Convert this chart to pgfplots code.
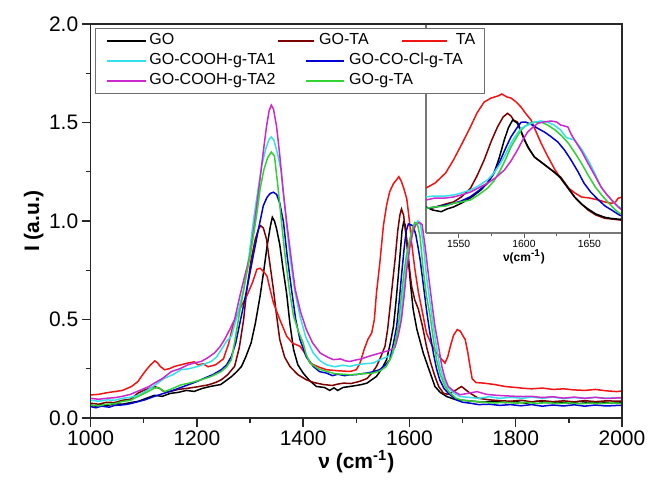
\documentclass[border=0pt]{standalone}
\usepackage{fontspec}
\setmainfont{Liberation Sans}
\usepackage{pgfplots}
\pgfplotsset{compat=1.18}
\definecolor{cGO}{RGB}{0,0,0}
\definecolor{cGOTA}{RGB}{125,0,0}
\definecolor{cTA}{RGB}{240,20,20}
\definecolor{cTAone}{RGB}{50,225,235}
\definecolor{cCl}{RGB}{0,0,215}
\definecolor{cTAtwo}{RGB}{205,40,205}
\definecolor{cgTA}{RGB}{50,210,50}
\definecolor{frame}{RGB}{40,40,40}
\begin{document}
\begin{tikzpicture}
\pgfplotsset{every axis plot/.append style={line width=0.75pt, no markers}}
% ---------- main curves ----------
\begin{axis}[at={(0,0)}, anchor=south west, scale only axis, width=265.7pt, height=197pt,
  xmin=1000, xmax=2000, ymin=0, ymax=2, hide axis]
\addplot[cGO] coordinates {(1000,0.066)(1010,0.06)(1020,0.068)(1030,0.063)(1045,0.072)(1060,0.07)(1075,0.078)(1090,0.085)(1105,0.1)(1120,0.115)(1135,0.11)(1150,0.125)(1165,0.13)(1180,0.14)(1195,0.135)(1210,0.15)(1225,0.16)(1235,0.165)(1245,0.17)(1255,0.19)(1265,0.21)(1275,0.235)(1284,0.262)(1292,0.31)(1302,0.381)(1310,0.48)(1319,0.62)(1326,0.75)(1332,0.87)(1338,0.97)(1342,1.019)(1346,1.0)(1350,0.96)(1356,0.88)(1362,0.76)(1369,0.63)(1375,0.48)(1382,0.347)(1390,0.27)(1400,0.228)(1412,0.19)(1425,0.16)(1440,0.155)(1450,0.14)(1458,0.153)(1465,0.14)(1475,0.155)(1488,0.16)(1500,0.165)(1510,0.17)(1520,0.177)(1529,0.194)(1538,0.211)(1548,0.25)(1557,0.296)(1564,0.38)(1570,0.466)(1575,0.6)(1579,0.721)(1583,0.85)(1586,0.95)(1589,0.993)(1592,0.98)(1595,0.9)(1598,0.806)(1602,0.68)(1607,0.551)(1614,0.45)(1620,0.39)(1626,0.33)(1635,0.26)(1648,0.16)(1658,0.13)(1670,0.109)(1685,0.095)(1700,0.09)(1720,0.085)(1740,0.08)(1760,0.085)(1780,0.078)(1800,0.083)(1820,0.075)(1840,0.085)(1860,0.078)(1880,0.082)(1900,0.076)(1920,0.084)(1940,0.078)(1960,0.082)(1980,0.077)(2000,0.08)};
\addplot[cGOTA] coordinates {(1000,0.075)(1015,0.07)(1030,0.08)(1045,0.078)(1060,0.09)(1075,0.095)(1089,0.126)(1100,0.14)(1110,0.15)(1120,0.16)(1130,0.15)(1140,0.13)(1150,0.135)(1165,0.145)(1183,0.151)(1200,0.158)(1221,0.168)(1235,0.18)(1246,0.194)(1258,0.22)(1271,0.262)(1280,0.36)(1288,0.5)(1294,0.653)(1302,0.8)(1310,0.908)(1316,0.96)(1320,0.976)(1325,0.965)(1331,0.908)(1337,0.79)(1344,0.653)(1350,0.52)(1356,0.398)(1365,0.31)(1375,0.262)(1390,0.22)(1406,0.194)(1420,0.18)(1438,0.17)(1455,0.165)(1465,0.172)(1476,0.177)(1490,0.175)(1505,0.185)(1520,0.2)(1530,0.23)(1538,0.262)(1546,0.31)(1554,0.364)(1559,0.45)(1563,0.551)(1568,0.68)(1573,0.806)(1578,0.95)(1582,1.03)(1585,1.061)(1589,1.03)(1595,0.891)(1600,0.76)(1604,0.67)(1610,0.6)(1617,0.551)(1625,0.46)(1632,0.364)(1640,0.28)(1648,0.211)(1655,0.16)(1664,0.126)(1672,0.12)(1683,0.134)(1692,0.15)(1698,0.16)(1705,0.145)(1714,0.126)(1730,0.1)(1751,0.092)(1770,0.088)(1790,0.085)(1810,0.09)(1830,0.082)(1850,0.088)(1870,0.083)(1890,0.087)(1910,0.082)(1930,0.088)(1950,0.083)(1970,0.087)(2000,0.085)};
\addplot[cTA] coordinates {(1000,0.117)(1015,0.12)(1030,0.128)(1045,0.134)(1060,0.14)(1077,0.16)(1089,0.185)(1098,0.22)(1105,0.245)(1113,0.27)(1121,0.29)(1126,0.28)(1131,0.262)(1139,0.245)(1148,0.25)(1158,0.262)(1170,0.27)(1183,0.279)(1195,0.285)(1202,0.27)(1212,0.275)(1221,0.26)(1235,0.27)(1250,0.3)(1260,0.38)(1269,0.483)(1280,0.55)(1294,0.62)(1305,0.69)(1313,0.755)(1319,0.76)(1325,0.745)(1332,0.72)(1338,0.65)(1344,0.585)(1356,0.5)(1369,0.415)(1380,0.38)(1394,0.364)(1403,0.33)(1413,0.279)(1428,0.26)(1444,0.245)(1465,0.24)(1488,0.236)(1500,0.245)(1507,0.279)(1515,0.35)(1522,0.4)(1529,0.432)(1534,0.5)(1538,0.636)(1544,0.78)(1551,0.976)(1557,1.08)(1563,1.15)(1570,1.19)(1576,1.21)(1580,1.225)(1585,1.2)(1590,1.16)(1595,1.112)(1600,1.0)(1604,0.891)(1610,0.76)(1617,0.636)(1625,0.53)(1632,0.432)(1642,0.37)(1651,0.33)(1660,0.3)(1667,0.279)(1672,0.31)(1677,0.364)(1683,0.42)(1690,0.449)(1696,0.44)(1700,0.42)(1705,0.398)(1710,0.33)(1714,0.262)(1718,0.2)(1725,0.18)(1740,0.177)(1760,0.17)(1780,0.16)(1800,0.155)(1814,0.151)(1830,0.148)(1850,0.152)(1870,0.145)(1890,0.148)(1908,0.143)(1930,0.14)(1950,0.145)(1970,0.138)(1990,0.134)(2000,0.137)};
\addplot[cTAone] coordinates {(1000,0.09)(1015,0.085)(1030,0.092)(1045,0.09)(1060,0.1)(1075,0.105)(1090,0.115)(1108,0.143)(1120,0.165)(1139,0.202)(1155,0.22)(1170,0.245)(1185,0.25)(1202,0.262)(1215,0.275)(1227,0.287)(1237,0.31)(1246,0.347)(1256,0.39)(1265,0.415)(1276,0.52)(1288,0.653)(1298,0.82)(1306,0.993)(1314,1.14)(1322,1.28)(1330,1.37)(1336,1.415)(1340,1.427)(1345,1.41)(1352,1.34)(1359,1.248)(1366,1.06)(1375,0.823)(1384,0.65)(1394,0.517)(1405,0.41)(1419,0.33)(1432,0.29)(1444,0.27)(1460,0.26)(1475,0.268)(1488,0.262)(1500,0.27)(1515,0.275)(1532,0.279)(1544,0.296)(1558,0.31)(1569,0.33)(1576,0.4)(1582,0.466)(1587,0.6)(1592,0.72)(1598,0.85)(1604,0.94)(1610,0.98)(1616,1.0)(1621,0.98)(1627,0.86)(1632,0.72)(1638,0.6)(1645,0.466)(1651,0.36)(1657,0.262)(1664,0.2)(1670,0.16)(1682,0.13)(1695,0.109)(1710,0.105)(1730,0.1)(1750,0.108)(1770,0.1)(1790,0.105)(1814,0.1)(1830,0.107)(1850,0.1)(1870,0.106)(1890,0.098)(1910,0.104)(1930,0.099)(1950,0.105)(1970,0.1)(2000,0.104)};
\addplot[cCl] coordinates {(1000,0.058)(1010,0.052)(1020,0.06)(1035,0.055)(1045,0.064)(1058,0.066)(1070,0.07)(1085,0.08)(1102,0.092)(1120,0.11)(1139,0.126)(1160,0.145)(1183,0.168)(1200,0.185)(1214,0.202)(1230,0.22)(1246,0.245)(1256,0.27)(1265,0.313)(1273,0.38)(1281,0.483)(1290,0.6)(1298,0.71)(1306,0.823)(1316,0.96)(1325,1.078)(1332,1.12)(1338,1.14)(1344,1.146)(1350,1.135)(1356,1.09)(1363,0.993)(1370,0.82)(1378,0.653)(1386,0.5)(1394,0.398)(1406,0.31)(1419,0.262)(1431,0.235)(1444,0.228)(1455,0.215)(1465,0.222)(1478,0.215)(1488,0.219)(1500,0.22)(1510,0.225)(1520,0.228)(1532,0.235)(1544,0.245)(1555,0.27)(1563,0.296)(1570,0.38)(1576,0.466)(1581,0.6)(1585,0.721)(1590,0.86)(1594,0.95)(1598,0.985)(1603,0.98)(1607,0.975)(1612,0.93)(1616,0.87)(1620,0.806)(1626,0.68)(1632,0.551)(1638,0.44)(1645,0.33)(1651,0.25)(1657,0.194)(1665,0.15)(1673,0.126)(1688,0.092)(1700,0.08)(1715,0.075)(1730,0.068)(1750,0.07)(1770,0.064)(1790,0.068)(1810,0.062)(1830,0.068)(1850,0.06)(1870,0.066)(1890,0.061)(1910,0.067)(1930,0.06)(1950,0.066)(1970,0.061)(2000,0.065)};
\addplot[cTAtwo] coordinates {(1000,0.1)(1015,0.095)(1030,0.1)(1045,0.103)(1058,0.109)(1075,0.12)(1095,0.143)(1110,0.16)(1120,0.177)(1135,0.2)(1152,0.236)(1168,0.25)(1183,0.27)(1196,0.28)(1208,0.287)(1220,0.305)(1233,0.33)(1243,0.36)(1252,0.398)(1262,0.45)(1271,0.5)(1281,0.62)(1290,0.72)(1300,0.823)(1308,0.98)(1316,1.15)(1324,1.33)(1331,1.48)(1336,1.56)(1340,1.588)(1344,1.57)(1350,1.48)(1356,1.333)(1362,1.16)(1369,0.993)(1377,0.82)(1385,0.653)(1395,0.54)(1406,0.449)(1418,0.38)(1432,0.33)(1445,0.31)(1457,0.296)(1470,0.3)(1480,0.29)(1488,0.287)(1500,0.295)(1510,0.3)(1520,0.31)(1532,0.32)(1545,0.33)(1558,0.34)(1568,0.35)(1573,0.36)(1579,0.42)(1585,0.5)(1590,0.62)(1595,0.755)(1601,0.87)(1607,0.95)(1613,0.985)(1619,0.993)(1624,0.98)(1630,0.86)(1636,0.72)(1642,0.59)(1648,0.466)(1655,0.36)(1661,0.262)(1667,0.2)(1673,0.16)(1684,0.135)(1695,0.118)(1710,0.125)(1727,0.134)(1745,0.12)(1765,0.115)(1785,0.112)(1800,0.11)(1814,0.109)(1830,0.11)(1850,0.104)(1870,0.108)(1890,0.101)(1910,0.106)(1930,0.1)(1950,0.105)(1970,0.099)(2000,0.103)};
\addplot[cgTA] coordinates {(1000,0.066)(1015,0.062)(1030,0.07)(1045,0.072)(1058,0.083)(1075,0.09)(1089,0.109)(1105,0.13)(1120,0.151)(1128,0.155)(1139,0.134)(1150,0.145)(1170,0.168)(1190,0.18)(1208,0.194)(1226,0.21)(1246,0.236)(1256,0.26)(1265,0.296)(1272,0.4)(1280,0.53)(1290,0.68)(1300,0.823)(1308,0.95)(1314,1.06)(1319,1.163)(1326,1.26)(1333,1.32)(1340,1.35)(1346,1.33)(1353,1.163)(1359,1.0)(1366,0.823)(1374,0.65)(1382,0.517)(1391,0.44)(1400,0.381)(1406,0.32)(1413,0.279)(1428,0.25)(1444,0.236)(1460,0.225)(1475,0.222)(1488,0.219)(1500,0.222)(1515,0.225)(1532,0.228)(1545,0.24)(1556,0.26)(1566,0.31)(1573,0.38)(1579,0.466)(1584,0.6)(1589,0.72)(1594,0.82)(1600,0.9)(1605,0.955)(1610,0.993)(1615,0.985)(1620,0.92)(1626,0.75)(1632,0.62)(1639,0.517)(1645,0.4)(1651,0.296)(1658,0.22)(1667,0.16)(1677,0.125)(1688,0.1)(1700,0.09)(1720,0.085)(1740,0.08)(1760,0.076)(1780,0.08)(1800,0.075)(1820,0.079)(1840,0.074)(1860,0.078)(1880,0.073)(1900,0.077)(1920,0.072)(1940,0.076)(1960,0.073)(1980,0.077)(2000,0.074)};
\end{axis}
% ---------- inset ----------
\begin{axis}[at={(167.7pt,92.5pt)}, anchor=south west, scale only axis, width=98pt, height=104.5pt,
  xmin=1525, xmax=1675, ymin=0, ymax=209,
  axis background/.style={fill=white},
  axis x line*=bottom, axis y line*=left, axis line style={draw={rgb,255:red,120;green,120;blue,120}, line width=0.6pt, -},
  ytick=\empty, xtick={1550,1600,1650}, minor x tick num=1,
  tick align=outside, major tick length=2.5pt, minor tick length=1.5pt,
  tick style={draw={rgb,255:red,90;green,90;blue,90}, line width=0.5pt},
  /pgf/number format/assume math mode=true, /pgf/number format/1000 sep={},
  xticklabel style={font=\fontsize{5.2}{6}\selectfont, inner sep=1pt},
  xlabel={ν(cm\textsuperscript{-1})},
  xlabel style={font=\fontsize{6}{7}\selectfont\bfseries, inner sep=0.5pt, yshift=1pt}]
\addplot[cTA] coordinates {(1525,45)(1532,50)(1540,60)(1546,73)(1552,88)(1559,106)(1564,120)(1569.5,131)(1575,135)(1580,137)(1583,139)(1587,136)(1590,135)(1594,131)(1597.7,126)(1601,120)(1605.4,113)(1609,102)(1613,90)(1618,77)(1623.8,63)(1629,53)(1634,45)(1639,40)(1644,36)(1650,35)(1656.9,33)(1662,31)(1667,29.7)(1670,31)(1672,34.7)(1675,36)};
\addplot[cGOTA] coordinates {(1525,24.7)(1530,25)(1535,27)(1540,29)(1546,31)(1552,36)(1559,44.7)(1564,57)(1569.5,73)(1575,92)(1579.7,106)(1584,116)(1587.4,119.7)(1590,117)(1592,113)(1595,111)(1599,98)(1602.8,86)(1607.9,76)(1613,71)(1618,66)(1623,61)(1628,56)(1633,47)(1638.7,36)(1644,29)(1649,23)(1655,18)(1661.8,14.7)(1667,14)(1673.4,13)(1675,13)};
\addplot[cGO] coordinates {(1525,26)(1530,23)(1536.7,21.3)(1541,24)(1546,26)(1552,29.7)(1560,36)(1567,43)(1572,50)(1577,59.7)(1581,75)(1584.9,93)(1588,105)(1591.3,113)(1595,109.7)(1597.5,102)(1600.3,93)(1604,84)(1608,76)(1613,71)(1618,66)(1623,61)(1628,55)(1633,46)(1638.7,36)(1644,29)(1649,24)(1655,19)(1661.8,15.7)(1667,14.5)(1673.4,13.7)(1675,14)};
\addplot[cCl] coordinates {(1525,24.7)(1532,26)(1540,28)(1546,29.7)(1552,32)(1559,36.3)(1565,42)(1572,49.7)(1577,60)(1582,73)(1586,85)(1590,96)(1594,104)(1597.7,110.7)(1601,111)(1605,109)(1610,105)(1615.6,101)(1620,97)(1625.9,91)(1631,83)(1636,73)(1641,62)(1646,49.7)(1651,41)(1657,33)(1662,27)(1667,23)(1673,18)(1675,17)};
\addplot[cgTA] coordinates {(1525,24.7)(1532,26)(1540,27)(1546,29.7)(1552,31)(1559,33)(1565,38)(1572,44.7)(1577,52)(1582,63)(1586,74)(1590,86)(1594,95)(1597.7,103)(1601,107)(1605,110)(1609,111)(1613,111)(1618,108)(1623.8,103)(1629,97)(1634,89.7)(1639,80)(1644,69.7)(1649,58)(1654.6,46)(1660,37)(1665,29.7)(1670,23)(1673,19.7)(1675,19)};
\addplot[cTAone] coordinates {(1525,36.3)(1532,37)(1540,37)(1546,38)(1552,40)(1559,43)(1565,47)(1572,53)(1577,60)(1582,69.7)(1586,79)(1590,89.7)(1594,98)(1597.7,104.7)(1603,108)(1608,111)(1613,112)(1618,111)(1623,108)(1628,103)(1632,96)(1634,94.7)(1638.7,93)(1644,84)(1649,73)(1654,60)(1659,46)(1663,39)(1667,33)(1672,27)(1675,24)};
\addplot[cTAtwo] coordinates {(1525,33)(1532,35)(1540,35)(1546,36)(1552,38)(1559,41)(1565,45)(1572,49.7)(1578,55)(1585,63)(1590,72)(1595,83)(1599,93)(1602.8,101)(1607,106)(1610.5,109.7)(1615,111)(1620.8,112)(1625,111)(1628,108)(1631,107)(1633.6,106)(1636,99)(1638.7,93)(1644,82)(1649,69.7)(1654,58)(1659,46)(1663,39)(1667,33)(1672,26)(1675,23)};
\end{axis}
% ---------- frame, ticks, labels, legend ----------
\begin{axis}[at={(0,0)}, anchor=south west, scale only axis, width=265.7pt, height=197pt,
  xmin=1000, xmax=2000, ymin=0, ymax=2,
  axis line style={draw=frame, line width=0.8pt},
  xtick={1000,1200,...,2000}, minor x tick num=1,
  ytick={0,0.5,...,2.0}, minor y tick num=1,
  tick align=outside, tick pos=left, major tick length=4.5pt, minor tick length=2.4pt,
  tick style={draw=frame, line width=0.7pt},
  /pgf/number format/assume math mode=true, /pgf/number format/1000 sep={},
  yticklabel style={/pgf/number format/.cd, fixed, fixed zerofill, precision=1},
  ticklabel style={font=\fontsize{10.5}{12}\selectfont, inner sep=1.5pt},
  xlabel={ν (cm\textsuperscript{-1})}, ylabel={I (a.u.)},
  label style={font=\fontsize{10.5}{12}\selectfont\bfseries},
  xlabel style={inner sep=1pt}, ylabel style={inner sep=1pt},
  legend cell align=left,
  legend style={at={(0.00828,0.98985)}, anchor=north west, draw={rgb,255:red,110;green,110;blue,110}, line width=0.5pt,
    fill=white, inner xsep=0pt, inner ysep=1.25pt, column sep=0pt, row sep=0pt,
    font=\fontsize{8}{9}\selectfont,
    nodes={inner sep=0pt, text height=6.5pt, text depth=3.5pt, anchor=west}},
  legend columns=3]
\addlegendimage{legend image code/.code={\path[draw=none] (0pt,0pt) -- (27pt,0pt); \draw[cGO, line width=0.75pt] (5.5pt,0pt) -- (25pt,0pt);}}
\addlegendentry{\makebox[64pt][l]{GO}}
\addlegendimage{legend image code/.code={\path[draw=none] (0pt,0pt) -- (35.5pt,0pt); \draw[cGOTA, line width=0.75pt] (0pt,0pt) -- (18pt,0pt);}}
\addlegendentry{\makebox[26pt][l]{\hspace*{-15pt}GO-TA}}
\addlegendimage{legend image code/.code={\path[draw=none] (0pt,0pt) -- (27pt,0pt); \draw[cTA, line width=0.75pt] (0pt,0pt) -- (22.5pt,0pt);}}
\addlegendentry{\makebox[14pt][l]{TA}}
\addlegendimage{legend image code/.code={\path[draw=none] (0pt,0pt) -- (27pt,0pt); \draw[cTAone, line width=0.75pt] (5.5pt,0pt) -- (25pt,0pt);}}
\addlegendentry{\makebox[64pt][l]{GO-COOH-g-TA1}}
\addlegendimage{legend image code/.code={\path[draw=none] (0pt,0pt) -- (35.5pt,0pt); \draw[cCl, line width=0.75pt] (14pt,0pt) -- (33pt,0pt);}}
\addlegendentry{\makebox[26pt][l]{GO-CO-Cl-g-TA}}
\addlegendimage{empty legend}
\addlegendentry{}
\addlegendimage{legend image code/.code={\path[draw=none] (0pt,0pt) -- (27pt,0pt); \draw[cTAtwo, line width=0.75pt] (5.5pt,0pt) -- (25pt,0pt);}}
\addlegendentry{\makebox[64pt][l]{GO-COOH-g-TA2}}
\addlegendimage{legend image code/.code={\path[draw=none] (0pt,0pt) -- (35.5pt,0pt); \draw[cgTA, line width=0.75pt] (14pt,0pt) -- (33pt,0pt);}}
\addlegendentry{\makebox[26pt][l]{GO-g-TA}}
\end{axis}
\pgfresetboundingbox
\path (-45.3pt,-32.5pt) rectangle (279.2pt,209pt);
\end{tikzpicture}
\end{document}
